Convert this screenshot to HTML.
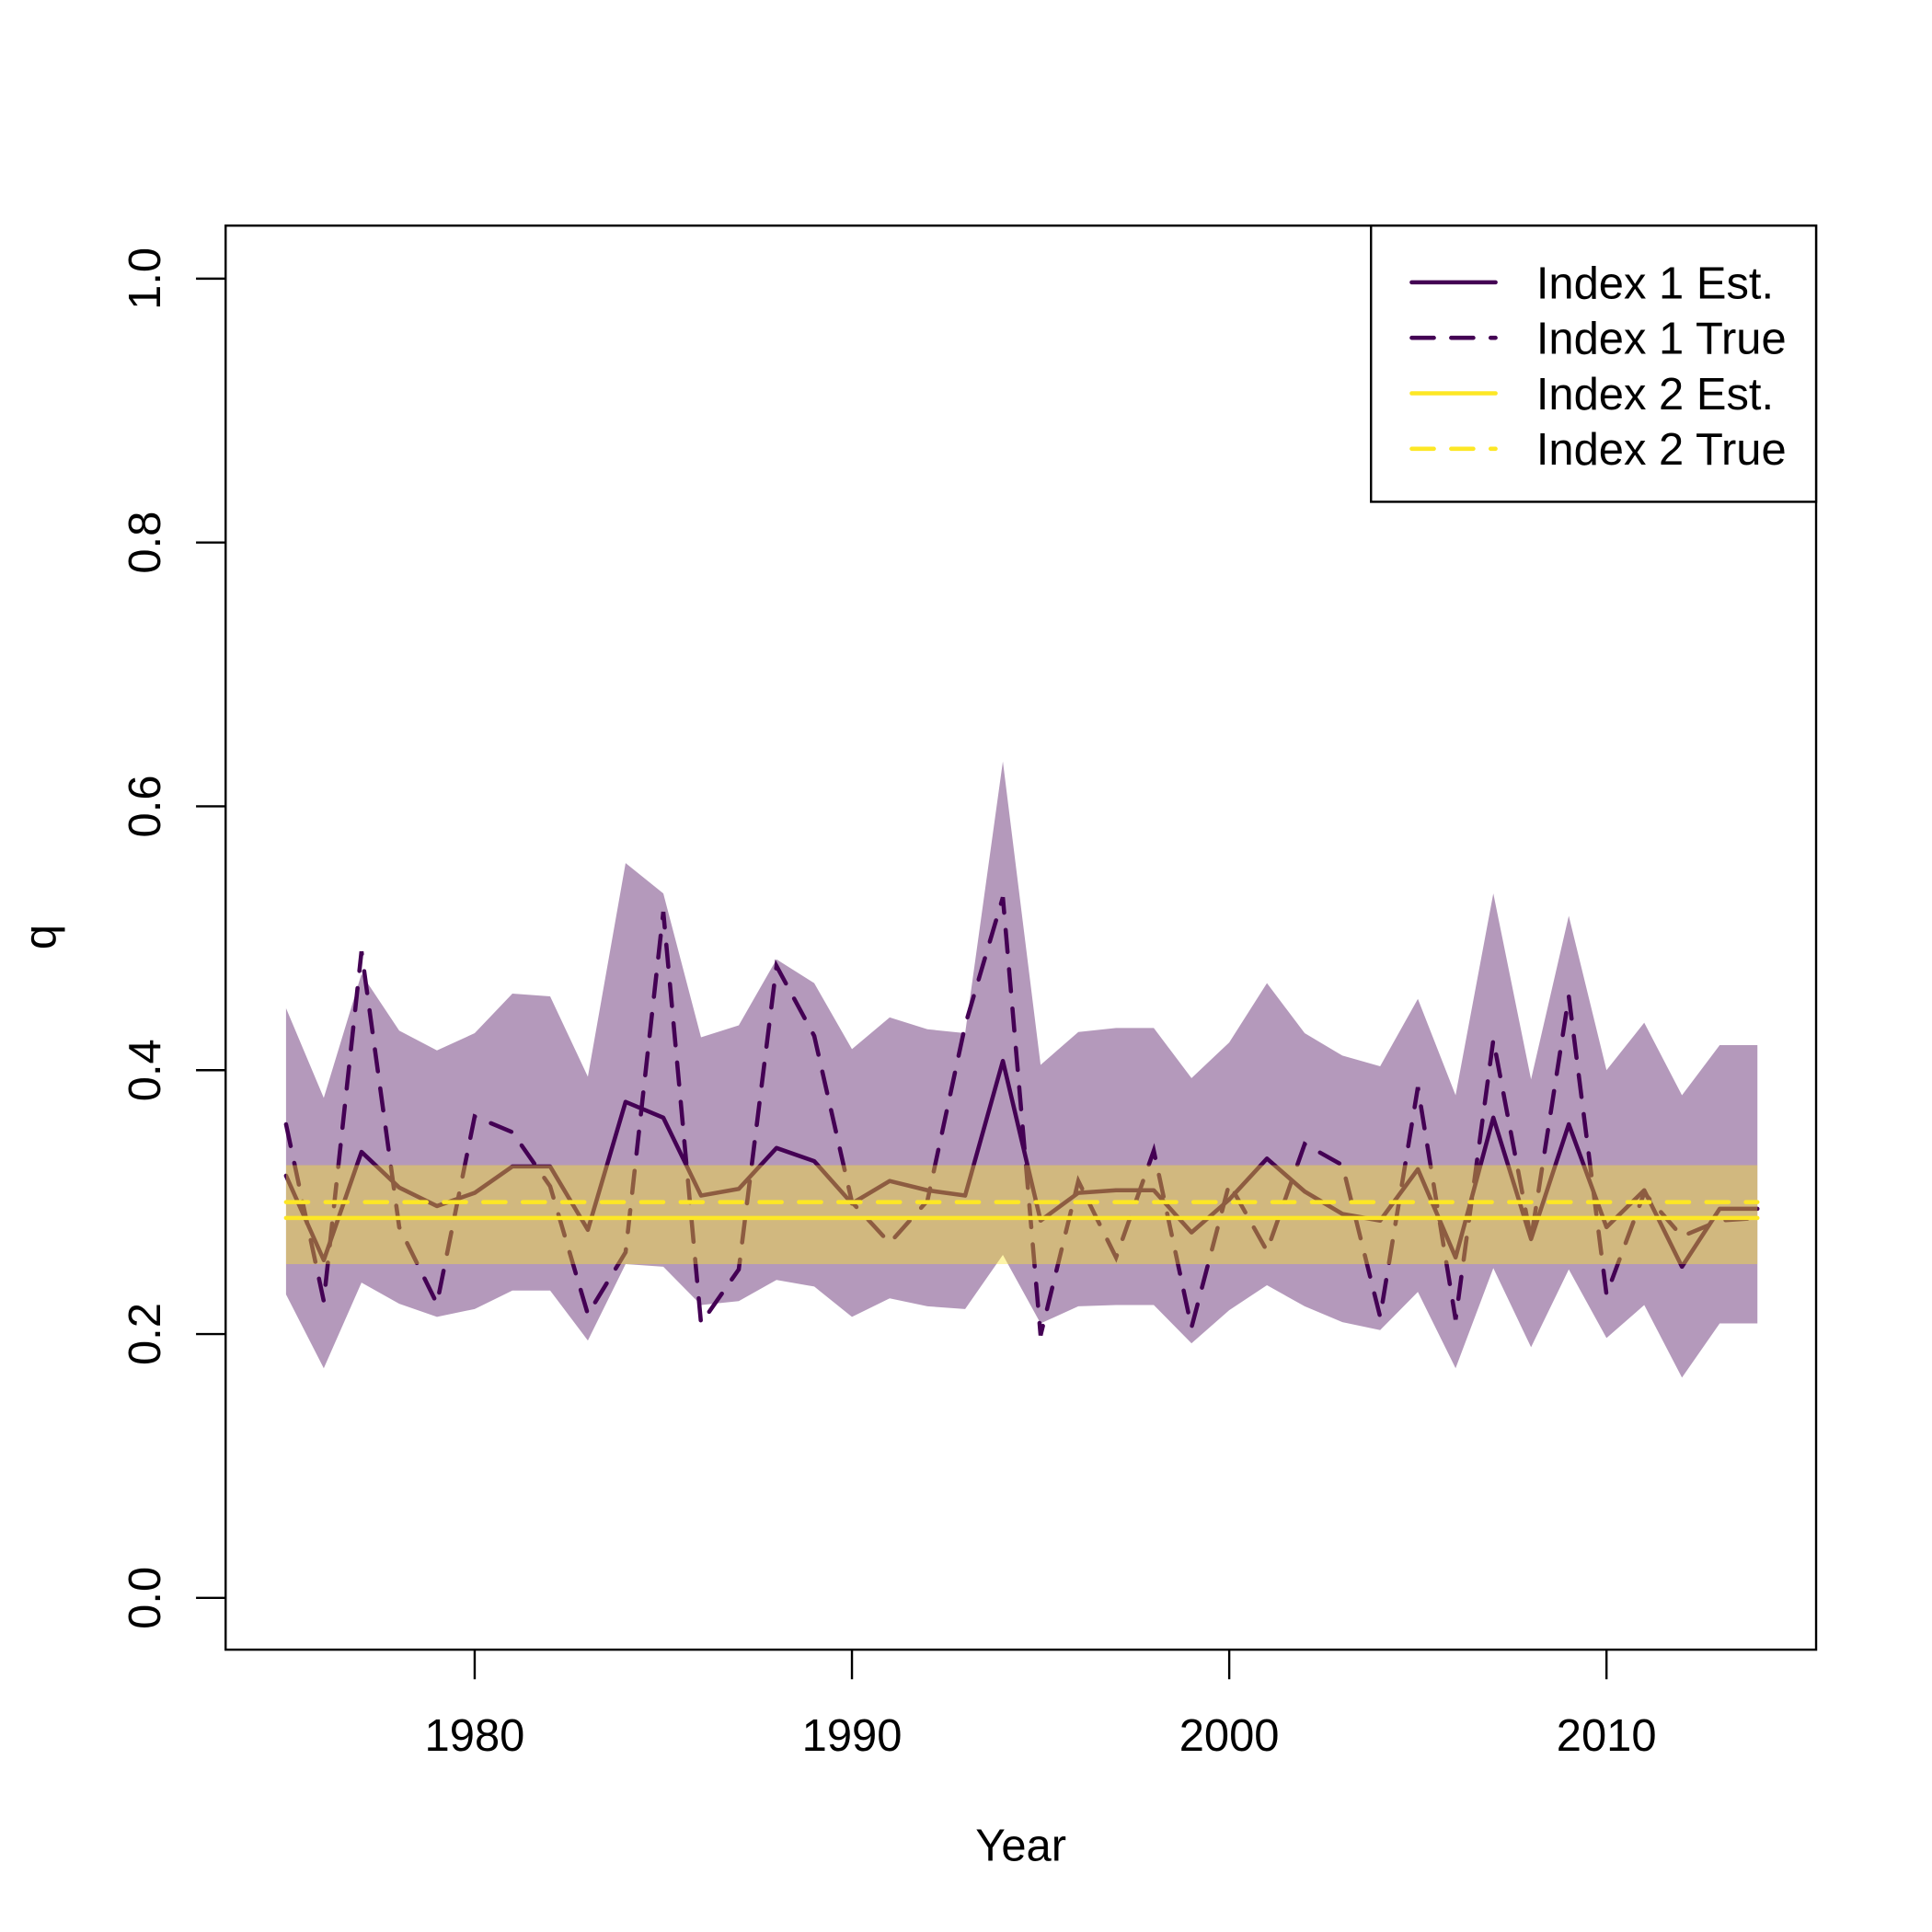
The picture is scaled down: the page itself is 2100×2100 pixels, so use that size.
<!DOCTYPE html>
<html><head><meta charset="utf-8"><style>
html,body{margin:0;padding:0;background:#fff}
svg{display:block}
text{font-family:"Liberation Sans",Arial,sans-serif;fill:#000}
</style></head><body>
<svg id="chart" width="2100" height="2100" viewBox="0 0 1567 1567" xmlns="http://www.w3.org/2000/svg"></svg>
<script>
const years = [];
for (let y = 1975; y <= 2014; y++) years.push(y);
const idx1Est = [0.320,0.256,0.338,0.311,0.297,0.307,0.327,0.327,0.279,0.376,0.364,0.305,0.310,0.341,0.331,0.299,0.316,0.309,0.305,0.407,0.286,0.307,0.309,0.309,0.277,0.302,0.333,0.308,0.291,0.286,0.325,0.258,0.364,0.272,0.359,0.281,0.309,0.251,0.295,0.295];
const idx1True = [0.359,0.225,0.490,0.281,0.223,0.365,0.353,0.312,0.215,0.262,0.520,0.208,0.249,0.479,0.426,0.300,0.269,0.301,0.434,0.531,0.199,0.316,0.258,0.339,0.205,0.314,0.263,0.344,0.328,0.213,0.387,0.211,0.423,0.272,0.456,0.230,0.307,0.274,0.286,0.288];
const idx1Upper = [0.447,0.379,0.473,0.430,0.415,0.428,0.458,0.456,0.395,0.557,0.534,0.425,0.434,0.484,0.466,0.416,0.440,0.431,0.428,0.634,0.404,0.429,0.432,0.432,0.394,0.421,0.466,0.428,0.411,0.403,0.454,0.381,0.534,0.393,0.517,0.400,0.436,0.381,0.419,0.419];
const idx1Lower = [0.230,0.174,0.239,0.223,0.213,0.219,0.233,0.233,0.195,0.253,0.251,0.222,0.225,0.241,0.236,0.213,0.227,0.221,0.219,0.260,0.208,0.221,0.222,0.222,0.193,0.218,0.237,0.221,0.209,0.203,0.232,0.174,0.250,0.190,0.249,0.197,0.222,0.167,0.208,0.208];
const idx2Est = 0.288;
const idx2True = 0.300;
const idx2Lower = 0.253;
const idx2Upper = 0.328;
const xTicks = [1980,1990,2000,2010];
const yTicks = [0.0,0.2,0.4,0.6,0.8,1.0];
const yTickLabels = ["0.0","0.2","0.4","0.6","0.8","1.0"];
const legendLabels = ["Index 1 Est.","Index 1 True","Index 2 Est.","Index 2 True"];

const NS = "http://www.w3.org/2000/svg";
const svg = document.getElementById('chart');
const xS = v => 385 + (v - 1980) * 30.6;
const yS = v => 1296 - v * 1070;
function mk(tag, attrs, parent) {
  const e = document.createElementNS(NS, tag);
  for (const k in attrs) e.setAttribute(k, attrs[k]);
  (parent || svg).appendChild(e);
  return e;
}
const PURPLE = "#440154", YEL = "#FDE725";
const DASH = '18 14';
const LW = 3.4;
const pts = arr => arr.map((v, i) => xS(years[i]).toFixed(1) + "," + yS(v).toFixed(1)).join(" ");

let band1 = mk('polygon', {points: pts(idx1Upper) + " " + idx1Lower.map((v, i) => [xS(years[i]).toFixed(1), yS(v).toFixed(1)].join(",")).reverse().join(" "), fill: PURPLE, 'fill-opacity': 0.4});



let l1 = mk('polyline', {points: pts(idx1Est), fill: 'none', stroke: PURPLE, 'stroke-width': LW, 'stroke-linejoin': 'round', 'stroke-linecap': 'round'});


let l2 = mk('polyline', {points: pts(idx1True), fill: 'none', stroke: PURPLE, 'stroke-width': LW, 'stroke-dasharray': DASH, 'stroke-linecap': 'round'});



const x0 = xS(years[0]), x1 = xS(years[years.length - 1]);
let band2 = mk('rect', {x: x0, y: yS(idx2Upper), width: x1 - x0, height: yS(idx2Lower) - yS(idx2Upper), fill: YEL, 'fill-opacity': 0.4});


let l3 = mk('line', {x1: x0, x2: x1, y1: yS(idx2Est), y2: yS(idx2Est), stroke: YEL, 'stroke-width': LW, 'stroke-linecap': 'round'});


let l4 = mk('line', {x1: x0, x2: x1, y1: yS(idx2True), y2: yS(idx2True), stroke: YEL, 'stroke-width': LW, 'stroke-dasharray': DASH, 'stroke-linecap': 'round'});



let box = mk('rect', {x: 183, y: 183, width: 1290, height: 1155, fill: 'none', stroke: '#000', 'stroke-width': 1.8});



xTicks.forEach(t => {
  const tk = mk('line', {x1: xS(t), x2: xS(t), y1: 1338, y2: 1362, stroke: '#000', 'stroke-width': 1.8});
  
  
  const tl = mk('text', {x: xS(t), y: 1420, 'font-size': 36.5, 'text-anchor': 'middle'});
  tl.textContent = t;
  
  
});
yTicks.forEach((t, i) => {
  const tk = mk('line', {x1: 159, x2: 183, y1: yS(t), y2: yS(t), stroke: '#000', 'stroke-width': 1.8});
  
  
  const tl = mk('text', {x: 0, y: 0, 'font-size': 36.5, 'text-anchor': 'middle', transform: `translate(130,${yS(t)}) rotate(-90)`});
  tl.textContent = yTickLabels[i];
  
  
});
let xt = mk('text', {x: 828, y: 1509, 'font-size': 36.5, 'text-anchor': 'middle'});
xt.textContent = 'Year';


let yt = mk('text', {x: 0, y: 0, 'font-size': 36.5, 'text-anchor': 'middle', transform: 'translate(45,760) rotate(-90)'});
yt.textContent = 'q';



const lg = mk('g', {});


mk('rect', {x: 1112, y: 183, width: 361, height: 224, fill: '#fff', stroke: '#000', 'stroke-width': 1.8}, lg);
const lcols = [PURPLE, PURPLE, YEL, YEL];
const ldash = [null, DASH, null, DASH];
legendLabels.forEach((lab, i) => {
  const yy = 229 + i * 45;
  const g = mk('g', {}, lg);
  
  
  const a = {x1: 1145, x2: 1213, y1: yy, y2: yy, stroke: lcols[i], 'stroke-width': LW, 'stroke-linecap': 'round'};
  if (ldash[i]) a['stroke-dasharray'] = ldash[i];
  mk('line', a, g);
  const t = mk('text', {x: 1246, y: yy + 13, 'font-size': 36.5}, g);
  t.textContent = lab;
});
</script>
</body></html>
